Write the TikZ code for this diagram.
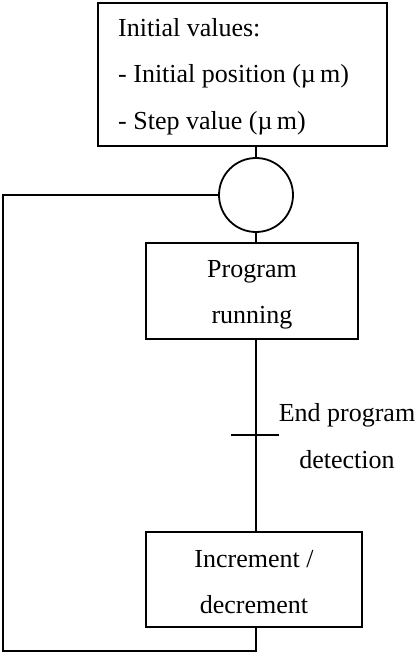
\documentclass[tikz,border=0pt]{standalone}
\usepackage{fontspec}
\setmainfont{Liberation Serif}
\begin{document}
\begin{tikzpicture}[x=1pt,y=-1pt,
  box/.style={draw,line width=1.8pt,rectangle,inner sep=0pt},
  lbl/.style={inner sep=0pt,align=center,font=\fontsize{26}{46}\selectfont},
  conn/.style={draw,line width=2pt}]
\useasboundingbox (0,0) rectangle (420,653);
\node[box,minimum width=289pt,minimum height=143pt] (top) at (242.5,74.5) {};
\node[inner sep=0pt,align=left,anchor=west,font=\fontsize{26}{46.5}\selectfont] (toptxt) at (118,76.5) {Initial values:\\- Initial position (µ\,m)\\- Step value (µ\,m)};
\node[draw,circle,line width=1.8pt,minimum size=74pt,inner sep=0pt] (circ) at (256,195) {};
\node[box,minimum width=212pt,minimum height=96pt] (prog) at (252,291) {};
\node[lbl] (progtxt) at (252,294.5) {Program\\running};
\node[box,minimum width=216pt,minimum height=95pt] (inc) at (254,579.5) {};
\node[lbl] (inctxt) at (254,582) {Increment /\\decrement};
\coordinate (tl) at (231,435);
\coordinate (tr) at (279,435);
\node[lbl,font=\fontsize{26}{47}\selectfont] (endtxt) at (347,436.5) {End program\\detection};
\coordinate (bot) at (256,651);
\coordinate (corner) at (3,651);
\path[conn] (circ.north) -- (circ.north |- top.south);
\path[conn] (circ.south) -- (circ.south |- prog.north);
\path[conn] (circ.south |- prog.south) -- (circ.south |- inc.north);
\path[conn] (tl) -- (tr);
\path[conn] (circ.south |- inc.south) -- (bot) -- (corner) -- (corner |- circ.west) -- (circ.west);
\end{tikzpicture}
\end{document}
